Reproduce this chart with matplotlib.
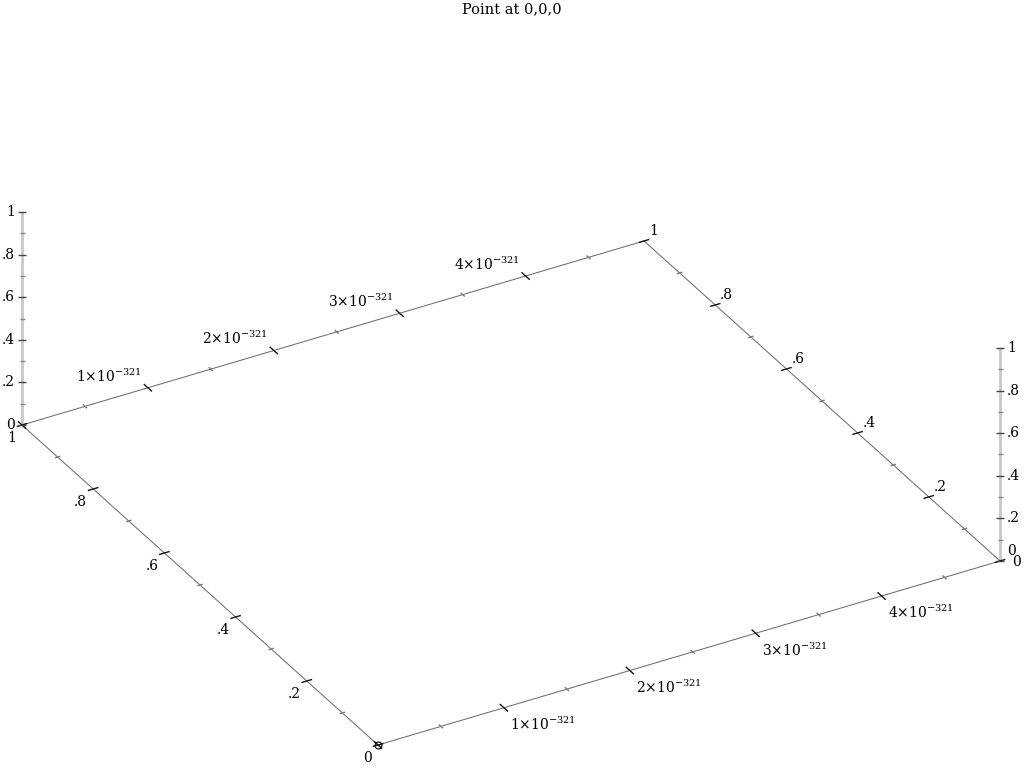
import numpy as np
import matplotlib
matplotlib.use("Agg")
import matplotlib.pyplot as plt

plt.rcParams['font.family'] = ['DejaVu Serif']
plt.rcParams['mathtext.fontset'] = 'dejavuserif'

# ---------------- data ----------------
TITLE = "Point at 0,0,0"
POINT_X = [0.0]   # in units of 1e-321
POINT_Y = [0.0]
POINT_Z = [0.0]

X_MIN, X_MAX = 0.0, 4.9407          # x range, units of 1e-321
Y_MIN, Y_MAX = 0.0, 1.0
Z_MIN, Z_MAX = 0.0, 1.0

X_MAJOR = [0, 1, 2, 3, 4]
X_LABELS = ["", r"$1{\times}10^{-321}$", r"$2{\times}10^{-321}$",
            r"$3{\times}10^{-321}$", r"$4{\times}10^{-321}$"]
X_MINOR = [0.5, 1.5, 2.5, 3.5, 4.5]

Y_MAJOR = [0.0, 0.2, 0.4, 0.6, 0.8, 1.0]
Y_LABELS = ["0", ".2", ".4", ".6", ".8", "1"]
Y_MINOR = [0.1, 0.3, 0.5, 0.7, 0.9]

Z_MAJOR = [0.0, 0.2, 0.4, 0.6, 0.8, 1.0]
Z_LABELS = ["0", ".2", ".4", ".6", ".8", "1"]
Z_MINOR = [0.1, 0.3, 0.5, 0.7, 0.9]

# ---------------- view (projection onto the page, pixels) ----------------
ORIGIN = np.array([378.0, 745.0])
EX = np.array([125.9, -37.25])   # per x unit
EY = np.array([-356.0, -320.0])  # per y unit
EZ = np.array([0.0, -213.0])     # per z unit


def proj(x, y, z):
    x = np.asarray(x, float); y = np.asarray(y, float); z = np.asarray(z, float)
    p = ORIGIN[:, None] + np.outer(EX, np.atleast_1d(x)) + np.outer(EY, np.atleast_1d(y)) \
        + np.outer(EZ, np.atleast_1d(z))
    return p[0], p[1]


fig = plt.figure(figsize=(10.24, 7.68), dpi=100)
ax = fig.add_axes([0, 0, 1, 1])
ax.set_xlim(0, 1024)
ax.set_ylim(768, 0)
ax.axis('off')

EDGE_C = '#6e6e6e'
TICK_C = '#111111'
MINOR_C = '#7a7a7a'
FS = 10

# z axes (vertical light grey bars)
for (xc, yc) in [(X_MIN, Y_MAX), (X_MAX, Y_MIN)]:
    px, py = proj([xc, xc], [yc, yc], [Z_MIN, Z_MAX])
    ax.plot(px, py, color='#c8c8c8', lw=2.0, solid_capstyle='butt', zorder=1)

# bottom box edges
for (xs, ys) in [([X_MIN, X_MAX], [Y_MIN, Y_MIN]), ([X_MIN, X_MAX], [Y_MAX, Y_MAX]),
                 ([X_MIN, X_MIN], [Y_MIN, Y_MAX]), ([X_MAX, X_MAX], [Y_MIN, Y_MAX])]:
    px, py = proj(xs, ys, [Z_MIN, Z_MIN])
    ax.plot(px, py, color=EDGE_C, lw=0.75, zorder=2)

ux = EX / np.hypot(*EX)
uy = EY / np.hypot(*EY)


def seg(cx, cy, d, half, color, lw=1.0):
    ax.plot([cx - d[0] * half, cx + d[0] * half], [cy - d[1] * half, cy + d[1] * half],
            color=color, lw=lw, zorder=3, solid_capstyle='butt')


# x ticks on front (y=0) and back (y=1) edges
for yy, off, ha, va in [(Y_MIN, (6, 8), 'left', 'top'), (Y_MAX, (-6, -3), 'right', 'bottom')]:
    for v, lab in zip(X_MAJOR, X_LABELS):
        px, py = proj(v, yy, Z_MIN)
        seg(px[0], py[0], uy, 5.5, TICK_C)
        if lab:
            ax.text(px[0] + off[0], py[0] + off[1], lab, ha=ha, va=va, fontsize=FS)
    for v in X_MINOR:
        px, py = proj(v, yy, Z_MIN)
        seg(px[0], py[0], uy, 2.8, MINOR_C)

# y ticks on left (x=0) and right (x=max) edges
for xx, off, ha, va in [(X_MIN, (-6, 6), 'right', 'top'), (X_MAX, (5, -3), 'left', 'bottom')]:
    for v, lab in zip(Y_MAJOR, Y_LABELS):
        px, py = proj(xx, v, Z_MIN)
        seg(px[0], py[0], ux, 5.5, TICK_C)
        o = off
        a_va = va
        if xx == X_MAX and v == Y_MIN:
            o = (off[0] + 7, 1)
            a_va = 'center'
        ax.text(px[0] + o[0], py[0] + o[1], lab, ha=ha, va=a_va, fontsize=FS)
    for v in Y_MINOR:
        px, py = proj(xx, v, Z_MIN)
        seg(px[0], py[0], ux, 2.8, MINOR_C)

# z ticks on the vertical axes
hz = np.array([1.0, 0.0])
for (xc, yc), side in [((X_MIN, Y_MAX), -1), ((X_MAX, Y_MIN), 1)]:
    for v, lab in zip(Z_MAJOR, Z_LABELS):
        px, py = proj(xc, yc, v)
        seg(px[0], py[0], hz, 4.0, '#444444')
        dy = 0
        if side == 1 and v == Z_MIN:
            dy = -10
        ax.text(px[0] + side * 7, py[0] + dy, lab, ha='left' if side > 0 else 'right',
                va='center', fontsize=FS)
    for v in Z_MINOR:
        px, py = proj(xc, yc, v)
        seg(px[0], py[0], hz, 2.5, '#888888')

# the point
px, py = proj(POINT_X, POINT_Y, POINT_Z)
ax.plot(px, py, 'o', ms=5, mfc='none', mec='black', mew=0.8, zorder=4)

ax.text(512, 9, TITLE, ha='center', va='center', fontsize=10.5)

fig.savefig('out.png', dpi=100)
